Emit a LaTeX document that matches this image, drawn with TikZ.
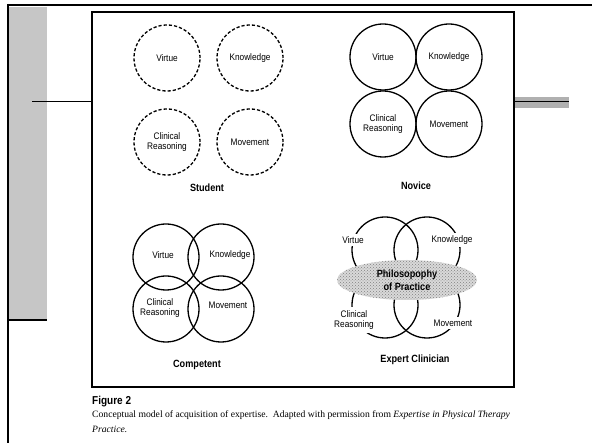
\documentclass[tikz,border=0pt]{standalone}
\usepackage{fontspec}
\setmainfont{Liberation Serif}
\newfontfamily\labfont[FakeStretch=0.87]{Liberation Sans}
\usetikzlibrary{patterns,shapes.geometric}

\begin{document}
\begin{tikzpicture}[x=1pt,y=-1pt,
  ring/.style={circle, draw, line width=1.3pt, minimum size=66pt, inner sep=0pt,
               font=\labfont\fontsize{9.5}{10.5}\selectfont, align=center},
  dashring/.style={ring, dash pattern=on 3.2pt off 2pt},
  lab/.style={font=\labfont\fontsize{9.5}{10.5}\selectfont, align=center, inner sep=1pt},
  cutlab/.style={lab, fill=white, inner sep=3pt},
  ttl/.style={font=\labfont\bfseries\fontsize{10.5}{12}\selectfont, inner sep=0pt},
  captext/.style={anchor=base west, inner sep=0pt, font=\fontsize{9.65}{11}\selectfont},
  rule/.style={line width=2pt},
]
\useasboundingbox (0,0) rectangle (592,443);
\fill[white] (0,0) rectangle (592,443);

% page decorations: shaded side panel, rules and tabs
\fill[gray!45] (9,7) rectangle (47,320);
\draw[line width=2.6pt] (7,5) -- (592,5);
\draw[rule] (8,4) -- (8,443);
\draw[rule] (7,320) -- (47,320);
\fill[gray!62] (514,97) rectangle (569,108);
\coordinate (tabL) at (32,101);
\coordinate (tabR) at (569,101);

% figure frame
\node[draw, line width=1.5pt, minimum width=422pt, minimum height=375pt, inner sep=0pt]
  (frame) at (303,199.5) {};
\draw[line width=0.9pt] (tabL) -- (frame.west |- tabL);
\draw[line width=0.9pt] (frame.east |- tabR) -- (tabR);

% Student: four separate dashed circles
\node[dashring] (sv) at (167,58)  {Virtue};
\node[dashring] (sk) at (250,58)  {Knowledge};
\node[dashring] (sc) at (167,142) {Clinical\\Reasoning};
\node[dashring] (sm) at (250,142) {Movement};
\node[ttl] (st) at (207,188) {Student};

% Novice: four touching circles
\node[ring] (nv) at (383,57)  {Virtue};
\node[ring] (nk) at (449,57)  {Knowledge};
\node[ring] (nc) at (383,124) {Clinical\\Reasoning};
\node[ring] (nm) at (449,124) {Movement};
\node[ttl] (nt) at (416,186) {Novice};

% Competent: four overlapping circles
\node[ring] (cv) at (166,257) {};
\node[ring] (ck) at (221,257) {};
\node[ring] (cc) at (166,309) {};
\node[ring] (cm) at (221,309) {};
\node[lab] (cvl) at (163,255) {Virtue};
\node[lab] (ckl) at (230,255) {Knowledge};
\node[lab] (ccl) at (160,308) {Clinical\\Reasoning};
\node[lab] (cml) at (228,305) {Movement};
\node[ttl] (ct) at (197,365) {Competent};

% Expert clinician: strongly overlapping circles around the philosophy of practice
\node[ring] (ev) at (385,250) {};
\node[ring] (ek) at (427,250) {};
\node[ring] (ec) at (385,305) {};
\node[ring] (em) at (427,305) {};
\node[ellipse, minimum width=140pt, minimum height=40pt, inner sep=0pt,
      preaction={fill=gray!30}, pattern=crosshatch dots, pattern color=black!50,
      font=\labfont\bfseries\fontsize{10.5}{13.5}\selectfont, align=center]
  (pp) at (407,280) {Philosopophy\\of Practice};
\node[cutlab] (evl) at (353,240) {Virtue};
\node[cutlab] (ekl) at (452,240) {Knowledge};
\node[cutlab] (ecl) at (354,320) {Clinical\\Reasoning};
\node[cutlab] (eml) at (453,323) {Movement};
\node[ttl] (et) at (415,360) {Expert Clinician};

% caption
\node[anchor=base west, inner sep=0pt, font=\labfont\bfseries\fontsize{11.5}{12}\selectfont]
  (fig) at (92,405) {Figure 2};
\node[captext] (cap1) at (92,418) {Conceptual model of acquisition of expertise.\ \ Adapted with permission from \textit{Expertise in Physical Therapy}};
\node[captext] (cap2) at (92,433) {\textit{Practice.}};
\end{tikzpicture}
\end{document}
